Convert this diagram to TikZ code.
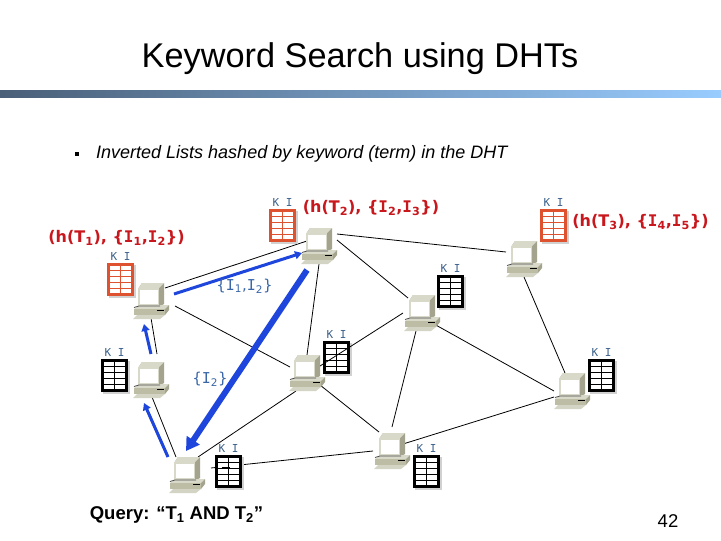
\documentclass[tikz,border=0pt]{standalone}
\usepackage{fontspec}
\setmainfont{Liberation Sans}
\newfontfamily\djs{DejaVu Sans}
\newfontfamily\djm{DejaVu Sans Mono}
\usetikzlibrary{arrows.meta}
\definecolor{netblue}{HTML}{1E46DC}
\definecolor{lblblue}{HTML}{3A66A8}
\definecolor{kiblue}{HTML}{3A5F8A}
\definecolor{redtxt}{HTML}{C8181E}
\definecolor{redline}{HTML}{DE5230}
\definecolor{pcbody}{HTML}{BDBDA6}
\definecolor{pcdark}{HTML}{A3A38E}
\definecolor{pclight}{HTML}{D9D9CA}
\definecolor{barleft}{HTML}{4A5F78}
\definecolor{barright}{HTML}{99CCFF}
\newcommand{\vI}{{\djm I}}
\newcommand{\pcnode}[3]{%
  \node[pcbox] (#1) at (#2,#3) {};
  \begin{scope}[shift={(#2,#3)}]
    \fill[pcdark] (-13,-12) -- (-9,-18) -- (13,-18) -- (13,3) -- (9,5) -- (-12,5) -- cycle;
    \fill[pclight] (-13,-12) -- (-9,-18) -- (13,-18) -- (8,-13) -- cycle;
    \fill[pclight] (-13,-13) rectangle (8,5);
    \fill[white] (-11,-11) rectangle (7,3);
    \fill[pclight] (-17,8) -- (-12,4) -- (18,4) -- (14,8) -- cycle;
    \fill[pcbody] (-17,8) rectangle (14,14);
    \fill[pcdark] (14,8) -- (18,4) -- (18,9) -- (14,14) -- cycle;
    \fill[pclight!90!pcdark] (-14,14) -- (14,14) -- (9,18) -- (-18,18) -- cycle;
    \draw[line width=.8pt,black!70] (-17,6.5) -- (-12,5) -- (9,5);
    \draw[line width=.9pt,black] (6,9) -- (13,9);
  \end{scope}}
\newcommand{\tblnode}[5]{% name, x, y, border colour, label colour
  \fill[black!18] (#2+2,#3+2) rectangle (#2+29,#3+35);
  \node[tblbox,draw=#4] (#1) at (#2+13.5,#3+16.5) {};
  \foreach \yy in {7.5,13.5,19.5,25.5} \draw[line width=1pt,#4] (#2,#3+\yy) -- (#2+27,#3+\yy);
  \draw[line width=1pt,#4] (#2+13.5,#3) -- (#2+13.5,#3+33);
  \node[kilabel] (k#1) at (#2+13.5,#3-7) {K I};}
\newcommand{\lnk}[4]{\draw[netlink] ([shift={(#2)}]#1.center) -- ([shift={(#4)}]#3.center);}
\tikzset{
  pcbox/.style={minimum width=36pt,minimum height=36pt,inner sep=0pt,outer sep=0pt},
  tblbox/.style={rectangle,fill=white,line width=3pt,minimum width=24pt,minimum height=30pt,inner sep=0pt,outer sep=0pt},
  kilabel/.style={inner sep=0pt,text=kiblue,font=\djm\fontsize{11}{12}\selectfont},
  netlink/.style={line width=.8pt,black},
  thinarrow/.style={netblue,line width=3pt,-{Triangle[length=7pt,width=8pt]}},
  fatarrow/.style={netblue,line width=6pt,-{Triangle[length=13pt,width=15pt]}},
  redlabel/.style={inner sep=0pt,text=redtxt,font=\djs\bfseries\fontsize{16}{18}\selectfont},
  bluelabel/.style={inner sep=0pt,text=lblblue,font=\djs\fontsize{15}{17}\selectfont},
}
\begin{document}
\begin{tikzpicture}[x=1pt,y=-1pt]
\useasboundingbox (0,0) rectangle (721,541);
\fill[white] (0,0) rectangle (721,541);
\node[inner sep=0pt,font=\fontsize{34.3}{38}\selectfont] (title) at (360,59) {Keyword Search using DHTs};
\shade[left color=barleft,right color=barright] (0,90) rectangle (721,97);
\fill[black] (75,152) rectangle (78.5,156) ;
\node[inner sep=0pt,anchor=west,font=\itshape\fontsize{18}{20}\selectfont] (bul) at (96,153.5) {Inverted Lists hashed by keyword (term) in the DHT};
% computers as anchors first
\path
  node[pcbox] (c1) at (151,301) {}
  node[pcbox] (c2) at (319,246) {}
  node[pcbox] (c3) at (524,259) {}
  node[pcbox] (c4) at (422,313) {}
  node[pcbox] (c5) at (572,391) {}
  node[pcbox] (c6) at (307,373) {}
  node[pcbox] (c7) at (151,380) {}
  node[pcbox] (c8) at (187,475) {}
  node[pcbox] (c9) at (392,451) {};
\lnk{c1}{14,-13}{c2}{-12,-5}
\lnk{c2}{18,-12}{c3}{-18,-7}
\lnk{c2}{18,-6}{c4}{-14,-15}
\lnk{c2}{0,18}{c6}{0,-18}
\lnk{c1}{24,5}{c6}{-17,-6}
\lnk{c1}{0,17}{c7}{6,-26}
\lnk{c3}{0,18}{c5}{-7,-18}
\lnk{c4}{12,11}{c5}{-18,0}
\lnk{c5}{-18,6}{c9}{11,-7}
\lnk{c4}{-6,18}{c9}{0,-24}
\lnk{c6}{13,12}{c9}{-13,-19}
\lnk{c6}{-11,18}{c8}{11,-18}
\lnk{c7}{1,17}{c8}{-11,-18}
\lnk{c8}{24,-7}{c9}{-19,0}
% tables
\tblnode{t1}{107}{263}{redline}{}
\tblnode{t2}{269}{209}{redline}{}
\tblnode{t3}{540}{209}{redline}{}
\tblnode{t4}{437}{275}{black}{}
\tblnode{t5}{588}{359}{black}{}
\tblnode{t6}{323}{341}{black}{}
\tblnode{t7}{101}{359}{black}{}
\tblnode{t8}{215}{455}{black}{}
\tblnode{t9}{413}{455}{black}{}
\lnk{c4}{-19,0}{c6}{13,-7}
\draw[line width=1.6pt,black] ([shift={(-7,-4)}]t8.center) -- ([shift={(1,-4)}]t8.center);
% computers
\pcnode{p1}{151}{301}
\pcnode{p2}{319}{246}
\pcnode{p3}{524}{259}
\pcnode{p4}{422}{313}
\pcnode{p5}{572}{391}
\pcnode{p6}{307}{373}
\pcnode{p7}{151}{380}
\pcnode{p8}{187}{475}
\pcnode{p9}{392}{451}
% query arrows
\draw[thinarrow] ([shift={(23,-7)}]c1.center) -- ([shift={(-17,7)}]c2.center);
\draw[fatarrow] ([shift={(-12,24)}]c2.center) -- ([shift={(-1,-24)}]c8.center);
\draw[thinarrow] ([shift={(0,-26)}]c7.center) -- ([shift={(-7,23)}]c1.center);
\draw[thinarrow] ([shift={(-19,-18)}]c8.center) -- ([shift={(-7,23)}]c7.center);
% labels
\node[redlabel] (l1) at (116.5,238) {(h(T\textsubscript{1}), \{\vI\textsubscript{1},\vI\textsubscript{2}\})};
\node[redlabel] (l2) at (371,208) {(h(T\textsubscript{2}), \{\vI\textsubscript{2},\vI\textsubscript{3}\})};
\node[redlabel] (l3) at (640.5,222) {(h(T\textsubscript{3}), \{\vI\textsubscript{4},\vI\textsubscript{5}\})};
\node[bluelabel] (b1) at (244.5,286) {\{\vI\textsubscript{1},\vI\textsubscript{2}\}};
\node[bluelabel] (b2) at (210,379) {\{\vI\textsubscript{2}\}};
\node[inner sep=0pt,font=\bfseries\fontsize{18.5}{20}\selectfont] (q) at (176.5,515) {Query: “T\textsubscript{1} AND T\textsubscript{2}”};
\node[inner sep=0pt,font=\fontsize{18.5}{20}\selectfont] (n) at (668,521) {42};
\end{tikzpicture}
\end{document}
